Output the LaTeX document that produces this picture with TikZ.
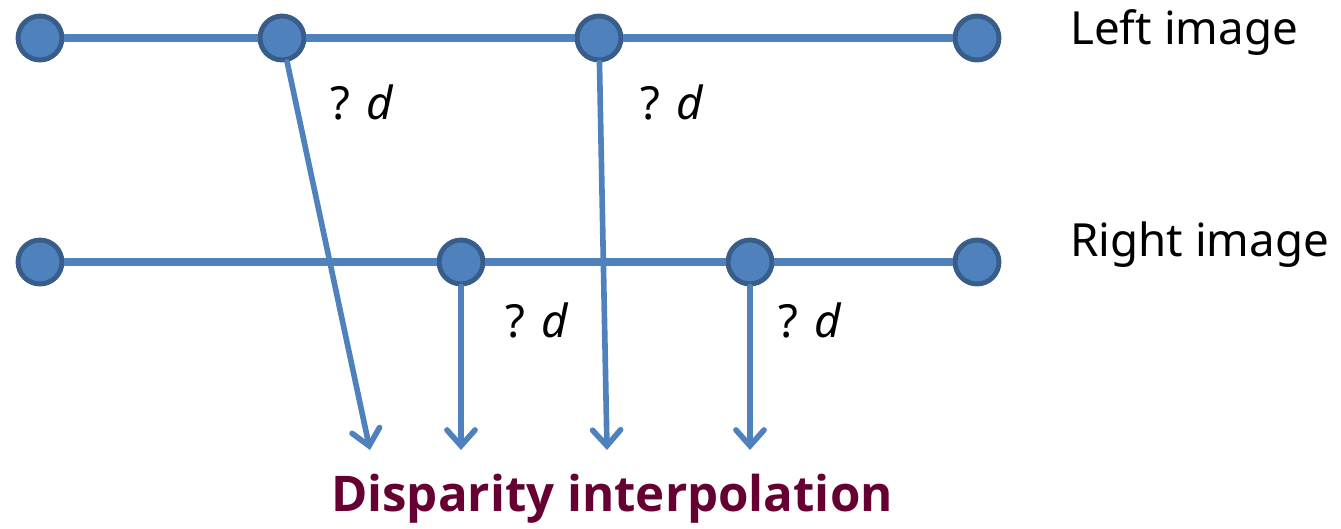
\documentclass[tikz,border=0pt]{standalone}
\usepackage{fontspec}
\setmainfont{Noto Sans}
\newfontfamily\titlefont{Open Sans}
\usetikzlibrary{arrows.meta}
\definecolor{pixblue}{HTML}{4F81BD}
\definecolor{pixedge}{HTML}{385D8A}
\definecolor{titlered}{HTML}{660033}
\tikzset{
  pixel/.style={circle, fill=pixblue, draw=pixedge, line width=2.8pt, minimum size=25pt, inner sep=0pt},
  scanline/.style={pixblue, line width=4.2pt},
  dispar/.style={pixblue, line width=3.2pt, line cap=round, -{Straight Barb[length=9pt, width=16pt, line cap=round]}},
  dlabel/.style={font=\fontsize{26}{30}\selectfont},
  rowlabel/.style={font=\fontsize{26}{30}\selectfont, anchor=west},
}
\begin{document}
\begin{tikzpicture}[x=0.02cm, y=-0.02cm]
        \useasboundingbox (0,0) rectangle (1341,528);

        % left image row
        \node[pixel] (l1) at (40,38) {};
        \node[pixel] (l2) at (282,38) {};
        \node[pixel] (l3) at (599,38) {};
        \node[pixel] (l4) at (977,38) {};

        % right image row
        \node[pixel] (r1) at (40,262) {};
        \node[pixel] (r2) at (461,262) {};
        \node[pixel] (r3) at (750,262) {};
        \node[pixel] (r4) at (977,262) {};

        \draw[scanline] (l1) -- (l2);
        \draw[scanline] (l2) -- (l3);
        \draw[scanline] (l3) -- (l4);
        \draw[scanline] (r1) -- (r2);
        \draw[scanline] (r2) -- (r3);
        \draw[scanline] (r3) -- (r4);

        \coordinate (e1) at (370,450);
        \coordinate (e2) at (461,450);
        \coordinate (e3) at (607,450);
        \coordinate (e4) at (750,450);

        \draw[dispar] (l2) -- (e1);
        \draw[dispar] (r2) -- (e2);
        \draw[dispar] (l3) -- (e3);
        \draw[dispar] (r3) -- (e4);

        \node[dlabel] (d1) at (362,102) {? \textit{d}};
        \node[dlabel] (d2) at (672,102) {? \textit{d}};
        \node[dlabel] (d3) at (537,320) {? \textit{d}};
        \node[dlabel] (d4) at (810,320) {? \textit{d}};

        \node[rowlabel] (left) at (1064,33) {Left image};
        \node[rowlabel] (right) at (1064,245) {Right image};

        \node[font=\titlefont\bfseries\fontsize{28}{34}\selectfont, text=titlered] (title) at (612,499) {Disparity interpolation};
        
        \end{tikzpicture}
\end{document}
